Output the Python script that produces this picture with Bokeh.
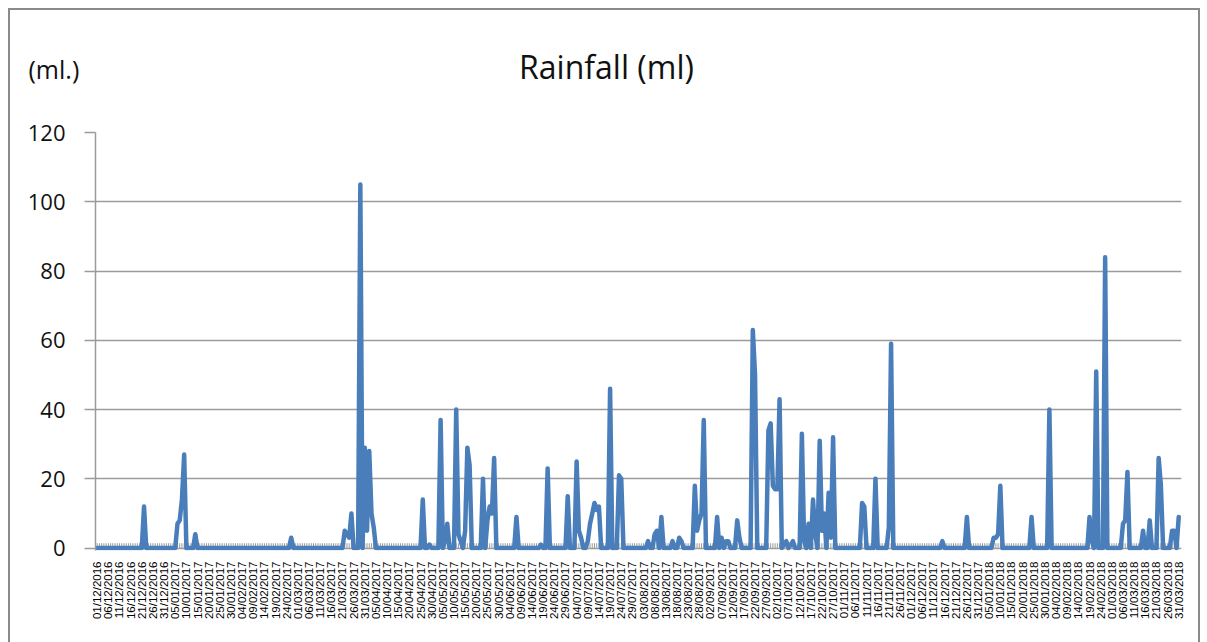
import math
import numpy as np
import pandas as pd
from bokeh.plotting import figure
from bokeh.layouts import column
from bokeh.models import FixedTicker
from bokeh.core.properties import value
from bokeh.embed import file_html
from bokeh.resources import INLINE

# ---- data -------------------------------------------------------------
# category axis: every day from 01/12/2016 to 31/03/2018
start_date = "2016-12-01"
end_date = "2018-03-31"
label_every = 5  # one tick label every 5 days

# days with rainfall (every other day is 0)
rain_dates = [
    "22/12/2016",
    "06/01/2017", "07/01/2017", "08/01/2017", "09/01/2017", "14/01/2017",
    "26/02/2017",
    "22/03/2017", "23/03/2017", "24/03/2017", "25/03/2017", "29/03/2017", "31/03/2017",
    "01/04/2017", "02/04/2017", "03/04/2017", "04/04/2017", "26/04/2017", "29/04/2017",
    "04/05/2017", "06/05/2017", "07/05/2017", "11/05/2017", "12/05/2017", "13/05/2017",
    "15/05/2017", "16/05/2017", "17/05/2017", "23/05/2017", "25/05/2017", "26/05/2017",
    "27/05/2017", "28/05/2017",
    "07/06/2017", "18/06/2017", "21/06/2017", "30/06/2017",
    "04/07/2017", "05/07/2017", "06/07/2017", "09/07/2017", "10/07/2017", "11/07/2017",
    "12/07/2017", "13/07/2017", "14/07/2017", "19/07/2017", "23/07/2017", "24/07/2017",
    "05/08/2017", "08/08/2017", "09/08/2017", "11/08/2017", "16/08/2017", "19/08/2017",
    "20/08/2017", "26/08/2017", "27/08/2017", "28/08/2017", "29/08/2017", "30/08/2017",
    "05/09/2017", "07/09/2017", "09/09/2017", "10/09/2017", "14/09/2017", "15/09/2017",
    "21/09/2017", "22/09/2017", "28/09/2017", "29/09/2017", "30/09/2017",
    "01/10/2017", "02/10/2017", "03/10/2017", "05/10/2017", "06/10/2017", "08/10/2017",
    "09/10/2017", "13/10/2017", "14/10/2017", "16/10/2017", "18/10/2017", "19/10/2017",
    "21/10/2017", "22/10/2017", "23/10/2017", "25/10/2017", "26/10/2017", "27/10/2017",
    "09/11/2017", "10/11/2017", "15/11/2017", "21/11/2017", "22/11/2017",
    "15/12/2017", "26/12/2017",
    "07/01/2018", "08/01/2018", "09/01/2018", "10/01/2018", "24/01/2018",
    "01/02/2018", "19/02/2018", "20/02/2018", "22/02/2018", "26/02/2018",
    "06/03/2018", "07/03/2018", "08/03/2018", "15/03/2018", "18/03/2018", "22/03/2018",
    "23/03/2018", "28/03/2018", "29/03/2018", "31/03/2018",
]
rain_values = [
    12,
    7, 8, 14, 27, 4,
    3,
    5, 4, 3, 10, 105, 29,
    5, 28, 10, 6, 14, 1,
    37, 2, 7, 40, 4, 2,
    5, 29, 24, 20, 8, 12,
    10, 26,
    9, 1, 23, 15,
    25, 5, 3, 2, 7, 10,
    13, 11, 12, 46, 21, 20,
    2, 4, 5, 9, 2, 3,
    2, 18, 5, 8, 10, 37,
    9, 3, 2, 2, 8, 3,
    63, 50, 34, 36, 18,
    17, 17, 43, 1, 2, 1,
    2, 33, 2, 7, 14, 4,
    31, 5, 10, 16, 3, 32,
    13, 12, 20, 6, 59,
    2, 9,
    3, 3, 4, 18, 9,
    40, 9, 2, 51, 84,
    7, 8, 22, 5, 8, 26,
    18, 5, 5, 9,
]

y_ticks = [0, 20, 40, 60, 80, 100, 120]
title_text = "Rainfall (ml)"
unit_text = "(ml.)"

# ---- build daily series ---------------------------------------------
days = pd.date_range(start_date, end_date, freq="D")
day_labels = [str(s) for s in days.strftime("%d/%m/%Y")]
rain = np.zeros(len(days))
pos = {d: i for i, d in enumerate(day_labels)}
for d, v in zip(rain_dates, rain_values):
    rain[pos[d]] = v
xs = np.arange(len(days))
n = len(days)

W = 1188
HEAD_H = 100
GRID = "#9b9b9b"
TXT = "#111111"

# ---- header (titles) ---------------------------------------------------
head = figure(width=W, height=HEAD_H, x_range=(0, W), y_range=(0, HEAD_H),
              output_backend="svg", toolbar_location=None,
              min_border=0, outline_line_color=None)
head.frame_align = False
head.axis.visible = False
head.grid.visible = False
head.background_fill_color = "white"
head.border_fill_color = "white"
head.text(x=[596], y=[44], text=[title_text], text_align="center",
          text_baseline="alphabetic", text_font=value("Open Sans"),
          text_font_size="32px", text_color=TXT)
head.text(x=[18], y=[42], text=[unit_text], text_align="left",
          text_baseline="alphabetic", text_font=value("Open Sans"),
          text_font_size="25px", text_color=TXT)

# ---- chart ---------------------------------------------------------------
p = figure(
    width=W, height=632 - HEAD_H,
    x_range=(-0.76, n - 1 + 1.24), y_range=(-0.7, 120),
    output_backend="svg", toolbar_location=None,
    min_border_left=85, min_border_right=17,
    min_border_top=22, min_border_bottom=92,
)
p.frame_align = False
p.outline_line_color = None
p.background_fill_color = "white"
p.border_fill_color = "white"

# small category tick marks along the zero line (drawn beneath the series)
p.segment(x0=xs, y0=np.zeros(n), x1=xs, y1=np.full(n, 1.4),
          line_color=GRID, line_width=1, level="underlay")

p.line(xs, rain, line_color="#4A7EBB", line_width=4.5,
       line_join="round", line_cap="round")

# x axis (category dates)
tick_idx = list(range(0, n, label_every))
xa = p.xaxis[0]
xa.ticker = FixedTicker(ticks=tick_idx, minor_ticks=[])
xa.major_label_overrides = {i: day_labels[i] for i in tick_idx}
xa.major_label_orientation = math.pi / 2
xa.major_label_text_font = "Liberation Sans"
xa.major_label_text_font_size = "11.5px"
xa.major_label_text_color = "black"
xa.major_label_standoff = 5
xa.axis_line_color = None
xa.major_tick_line_color = None
xa.minor_tick_line_color = None

# y axis
ya = p.yaxis[0]
ya.ticker = FixedTicker(ticks=y_ticks)
ya.major_label_text_font = "Open Sans"
ya.major_label_text_font_size = "22px"
ya.major_label_text_color = TXT
ya.major_label_standoff = 19
ya.axis_line_color = GRID
ya.axis_line_width = 1.5
ya.major_tick_in = 0
ya.major_tick_out = 11
ya.major_tick_line_color = GRID
ya.major_tick_line_width = 1.5
ya.minor_tick_line_color = None

p.xgrid.grid_line_color = None
p.ygrid.ticker = FixedTicker(ticks=y_ticks)
p.ygrid.grid_line_color = GRID
p.ygrid.grid_line_width = 1.5

layout = column(head, p, spacing=0)
layout.styles = {
    "margin-left": "8px",
    "margin-top": "8px",
    "border-top": "2px solid #8a8a8a",
    "border-left": "2px solid #8a8a8a",
    "border-right": "2px solid #8a8a8a",
}

open("out.html", "w").write(file_html(layout, INLINE))
